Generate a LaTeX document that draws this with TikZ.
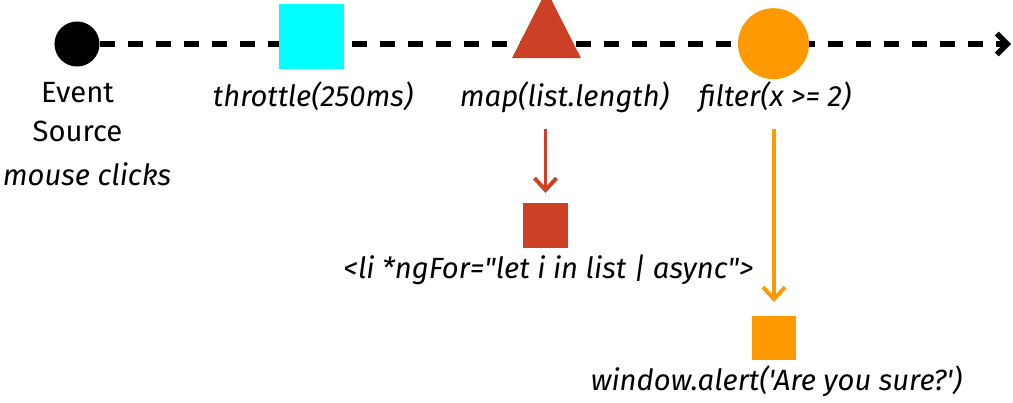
\documentclass[tikz,border=0pt]{standalone}
\usepackage{fontspec}
\setmainfont{Fira Sans}[Ligatures=TeXOff]
\usetikzlibrary{positioning}
\usetikzlibrary{arrows.meta,shapes.geometric}
\definecolor{cyanop}{HTML}{00FFFF}
\definecolor{redop}{HTML}{CC4125}
\definecolor{orangeop}{HTML}{FF9900}
\tikzstyle{marble}=[inner sep=0pt, outer sep=0pt]
\tikzstyle{timeline}=[draw, line width=3.9pt, dash pattern=on 0.375cm off 0.325cm, -{Straight Barb[length=2.6mm,width=5.2mm]}]
\tikzstyle{emitedge}=[draw, line width=2.8pt, -{Straight Barb[length=3mm,width=5.5mm]}]
\tikzstyle{oplabel}=[font=\fontsize{20.8}{28}\selectfont\itshape, anchor=base, inner sep=0pt]
\tikzstyle{plainlabel}=[font=\fontsize{20.8}{28}\selectfont, anchor=base, inner sep=0pt]

\begin{document}
\begin{tikzpicture}[x=0.025cm, y=-0.025cm]
\useasboundingbox (0,0) rectangle (1013,402);

% source and time line
\node[marble, circle, fill=black, minimum size=1.125cm] (src) at (77,44) {};
\coordinate (tend) at (1011,44);
\draw[timeline] (src) -- (tend);

% operators
\node[marble, fill=cyanop, minimum size=1.625cm] (thr) at (311.5,36.5) {};
\node[marble, isosceles triangle, isosceles triangle stretches, shape border rotate=90,
      minimum width=1.725cm, minimum height=1.7cm, fill=redop] (map) at (546.5,37) {};
\node[marble, circle, fill=orangeop, minimum size=1.775cm] (flt) at (773.5,43.7) {};

% labels
\foreach \pos/\name/\label in {{(77.5,102)/evlbl/Event}, {(77.5,141)/srclbl/Source}}
    \node[plainlabel] (\name) at \pos {\label};
\foreach \pos/\name/\label in {{(87,185)/mouselbl/mouse clicks}, {(313,106)/thrlbl/throttle(250ms)},
        {(564.5,106)/maplbl/map(list.length)}, {(775,106)/fltlbl/filter(x >= 2)},
        {(548.5,278)/outlbl/<li *ngFor="let i in list | async">}, {(776.5,390)/alertlbl/window.alert('Are you sure?')}}
    \node[oplabel] (\name) at \pos {\label};

% outputs
\node[marble, fill=redop, minimum size=1.125cm] (mapout) at (545.5,225.5) {};
\node[marble, fill=orangeop, minimum size=1.1cm] (fltout) at (774,338) {};

\draw[emitedge, redop, shorten <=0.4cm, shorten >=0.25cm] (mapout |- maplbl.south) -- (mapout);
\draw[emitedge, orangeop, shorten <=0.4cm, shorten >=0.35cm] (fltout |- fltlbl.south) -- (fltout);

\end{tikzpicture}
\end{document}
